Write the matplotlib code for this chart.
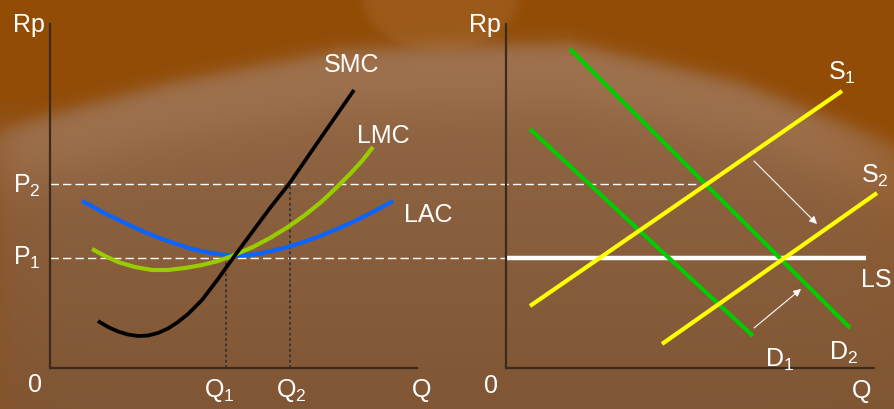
import numpy as np
import matplotlib
matplotlib.use('Agg')
import matplotlib.pyplot as plt


##########################
### PLOTTING CONSTANTS ###
##########################
FIG_DIMENSION = (8.94, 4.10)
plt.rcParams['font.family'] = ['Liberation Sans', 'DejaVu Sans']
plt.rcParams['mathtext.fontset'] = 'custom'
plt.rcParams['mathtext.rm'] = 'Liberation Sans'
plt.rcParams['mathtext.it'] = 'Liberation Sans'
FS = 18
AXIS_COLOR = '#3b2b1d'


##########################
###   LEFT PANEL DATA  ###
##########################
# short run / long run cost curves (Q, Rp), origin at the axes corner
smc_q = [48, 58, 68, 78, 88, 98, 108, 118, 128, 138, 152, 168, 182, 200, 220, 239, 270, 304]
smc_p = [47, 41, 36.5, 33.5, 32, 32.5, 35, 39.5, 46, 54, 68, 89, 108.5, 133, 160, 184, 229, 278]

lmc_q = [42, 55, 68, 85, 102, 118, 135, 152, 168, 182, 203, 220, 238, 255, 270, 285, 300, 312, 323]
lmc_p = [119, 112, 106, 101, 98, 98, 100, 103, 107, 112, 121, 130, 141, 153, 165, 179, 194, 207, 221]

lac_q = [32, 45, 58, 75, 92, 108, 125, 142, 158, 175, 188, 203, 220, 238, 255, 270, 287, 303, 323, 343]
lac_p = [167, 160, 153, 145, 137, 130.5, 124.5, 119, 115.5, 113, 112.5, 113.5, 116.5, 121, 126.5,
         132, 139, 146, 156, 167]

P1 = 110
P2 = 184
Q1 = 176
Q2 = 240


##########################
###  RIGHT PANEL DATA  ###
##########################
d1_q = [24, 247]
d1_p = [239, 32]
d2_q = [64, 344]
d2_p = [319, 40]
s1_q = [24, 336]
s1_p = [62, 277]
s2_q = [156, 371]
s2_p = [24, 175]
ls_q = [0, 360]

# shift arrows (start -> end)
arrow_down = [(248, 207), (311, 144)]
arrow_up = [(248, 40), (295, 79)]


def blend(img, color, w):
    c = np.array(color) / 255
    return img * (1 - w[..., None]) + c * w[..., None]


def make_background(w=894, h=410):
    yy, xx = np.mgrid[0:h, 0:w].astype(float)
    top = np.array([150, 106, 72]) / 255
    bot = np.array([128, 86, 52]) / 255
    t = (yy / h)[..., None]
    img = top * (1 - t) + bot * t

    # lighter fan under the orange cap
    yb = np.interp(xx, [0, 170, 340, 440, 570, 740, 894],
                   [128, 83, 50, 46, 43, 83, 143])
    band = 0.5 * np.exp(-((yy - yb - 22) / 45) ** 2)
    img = blend(img, [170, 124, 88], band)

    # orange cap on the top
    img = blend(img, [146, 76, 6], 1 / (1 + np.exp((yy - yb) / 5)))

    # darker edges
    img = blend(img, [140, 80, 30], 0.4 * np.exp(-xx / 18) * (yy > 100))
    wr = 0.45 * np.exp(-(w - xx) / 45) * np.exp(-np.clip(yy - 140, 0, None) / 110)
    img = blend(img, [146, 76, 6], wr)

    # faint halo at top centre
    r = np.hypot((xx - 440) / 77, yy / 50)
    img = blend(img, [190, 140, 95], 0.22 / (1 + np.exp((r - 1) / 0.04)))
    return np.clip(img, 0, 1)


def style_axes(ax, xmax, ymax):
    ax.set_xlim(0, xmax)
    ax.set_ylim(0, ymax)
    ax.patch.set_alpha(0)
    for s in ['top', 'right']:
        ax.spines[s].set_visible(False)
    for s in ['left', 'bottom']:
        ax.spines[s].set_color(AXIS_COLOR)
        ax.spines[s].set_linewidth(1.6)
    ax.set_xticks([])
    ax.set_yticks([])


def label(ax, x, y, s):
    ax.text(x, y, s, color='white', fontsize=FS, ha='left', va='baseline',
            clip_on=False)


fig = plt.figure(figsize=FIG_DIMENSION, dpi=100)

bg = fig.add_axes([0, 0, 1, 1])
bg.imshow(make_background(), aspect='auto', interpolation='bilinear')
bg.axis('off')

ax1 = fig.add_axes([50 / 894, 41 / 410, 367 / 894, 344 / 410])
ax2 = fig.add_axes([506 / 894, 41 / 410, 368 / 894, 344 / 410])
style_axes(ax1, 367, 344)
style_axes(ax2, 368, 344)

# --- left panel ---
ax1.plot([0, 647], [P2, P2], color='white', lw=1, dashes=(6, 3), clip_on=False)
ax1.plot([0, 456], [P1, P1], color='white', lw=1, dashes=(6, 3), clip_on=False)
ax1.plot([Q1, Q1], [0, P1], color='#333333', lw=1.3, dashes=(1.5, 1.5))
ax1.plot([Q2, Q2], [0, P2], color='#333333', lw=1.3, dashes=(1.5, 1.5))

ax1.plot(lac_q, lac_p, color='#0a64ff', lw=3, solid_capstyle='butt', solid_joinstyle='round')
ax1.plot(lmc_q, lmc_p, color='#99cc00', lw=3, solid_capstyle='butt', solid_joinstyle='round')
ax1.plot(smc_q, smc_p, color='black', lw=2.7, solid_capstyle='butt', solid_joinstyle='round')

label(ax1, -37, 337, 'Rp')
label(ax1, -37, 176, 'P$_2$')
label(ax1, -37, 104, 'P$_1$')
label(ax1, -22, -23, '0')
label(ax1, 154, -28, 'Q$_1$')
label(ax1, 226, -28, 'Q$_2$')
label(ax1, 362, -28, 'Q')
label(ax1, 274, 297, 'SMC')
label(ax1, 307, 226, 'LMC')
label(ax1, 354, 147, 'LAC')

# --- right panel ---
ax2.plot(ls_q, [P1, P1], color='white', lw=3.2, solid_capstyle='butt')
ax2.plot(d1_q, d1_p, color='#00cc00', lw=3, solid_capstyle='butt')
ax2.plot(d2_q, d2_p, color='#00cc00', lw=3, solid_capstyle='butt')
ax2.plot(s1_q, s1_p, color='#ffff00', lw=3, solid_capstyle='butt')
ax2.plot(s2_q, s2_p, color='#ffff00', lw=3, solid_capstyle='butt', clip_on=False)

for a in [arrow_down, arrow_up]:
    ax2.annotate('', xy=a[1], xytext=a[0],
                 arrowprops=dict(arrowstyle='-|>', color='white', lw=0.8,
                                 mutation_scale=11, shrinkA=0, shrinkB=0))

label(ax2, -37, 337, 'Rp')
label(ax2, -22, -24, '0')
label(ax2, 346, -29, 'Q')
label(ax2, 322, 289, 'S$_1$')
label(ax2, 355, 186, 'S$_2$')
label(ax2, 355, 82, 'LS')
label(ax2, 259, 2, 'D$_1$')
label(ax2, 323, 9, 'D$_2$')

plt.savefig('out.png', dpi=100)
plt.close()
